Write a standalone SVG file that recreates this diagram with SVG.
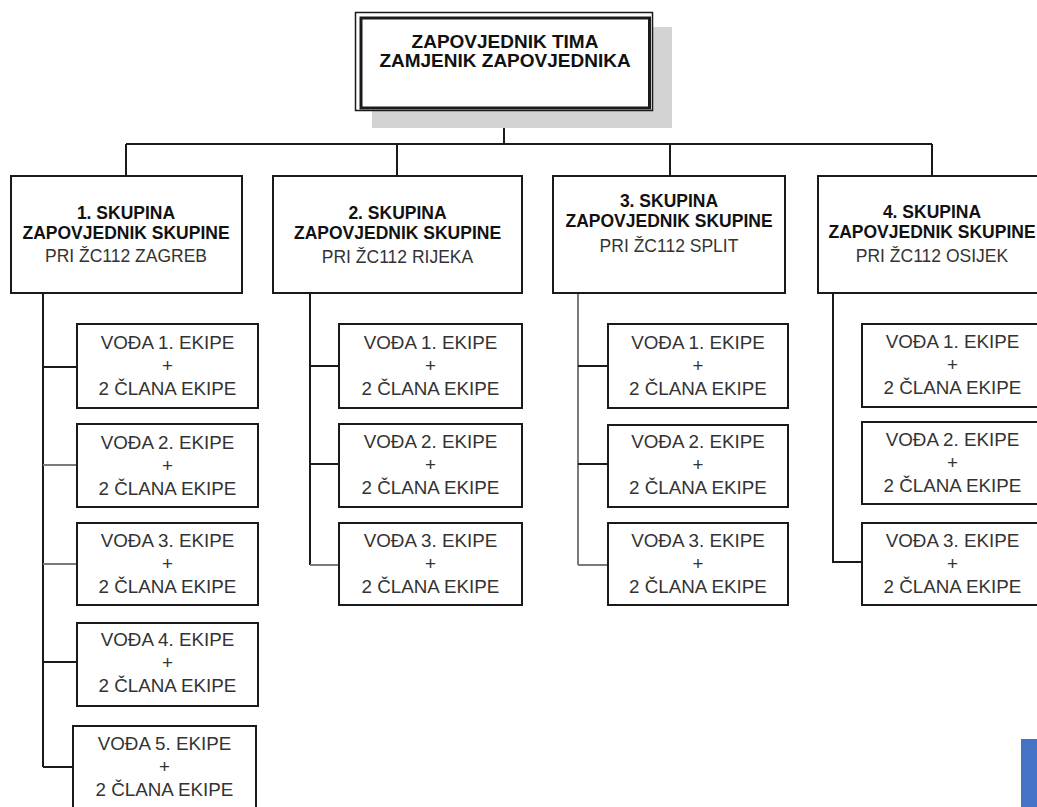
<svg xmlns="http://www.w3.org/2000/svg" width="1037" height="807" viewBox="0 0 1037 807">
<style>
.bg{fill:#ffffff}
.box{fill:#ffffff;stroke:#1a1a1a;stroke-width:2}
.ln{fill:none;stroke:#1a1a1a;stroke-width:2}
.lg{fill:none;stroke:#7a7a7a;stroke-width:2}
.t{font-family:"Liberation Sans",Arial,sans-serif;text-anchor:middle}
.tb{font-weight:bold;fill:#111;font-size:17.5px}
.tr{fill:#333;font-size:17.5px}
.tt{font-weight:bold;fill:#111;font-size:19px}
.te{fill:#333;font-size:18.8px}
</style>
<rect class="bg" x="0" y="0" width="1037" height="807"/>
<g id="connectors">
<path class="ln" d="M504 111V144M126 144H932M126 144V176M397 144V176M670 144V176M932 144V176"/>
<path class="ln" d="M43 293V767M43 367H77M43 662H77M43 767H73"/>
<path class="lg" d="M43 465H77M43 564H77"/>
<path class="ln" d="M310 293V565M310 366H339M310 464H339"/>
<path class="lg" d="M310 565H339"/>
<path class="lg" d="M578 293V565"/>
<path class="ln" d="M578 366H608M578 464H608"/>
<path class="lg" d="M578 565H608"/>
<path class="ln" d="M833 293V562H862"/>
</g>
<g id="top">
<rect x="372" y="27" width="300" height="101" fill="#d3d3d3"/>
<rect x="355.5" y="12.5" width="297" height="98" fill="#ffffff" stroke="#1a1a1a" stroke-width="1.5"/>
<rect x="361" y="18" width="288.5" height="90" fill="none" stroke="#1a1a1a" stroke-width="3"/>
<text class="t tt" x="505" y="48">ZAPOVJEDNIK TIMA</text>
<text class="t tt" x="505" y="67">ZAMJENIK ZAPOVJEDNIKA</text>
</g>
<g id="g1">
<rect class="box" x="11" y="176" width="231" height="117"/>
<text class="t tb" x="126" y="219">1. SKUPINA</text>
<text class="t tb" x="126" y="239">ZAPOVJEDNIK SKUPINE</text>
<text class="t tr" x="126" y="262">PRI ŽC112 ZAGREB</text>
</g>
<g id="g2">
<rect class="box" x="273" y="176" width="249" height="117"/>
<text class="t tb" x="397.5" y="219">2. SKUPINA</text>
<text class="t tb" x="397.5" y="239">ZAPOVJEDNIK SKUPINE</text>
<text class="t tr" x="397.5" y="263">PRI ŽC112 RIJEKA</text>
</g>
<g id="g3">
<rect class="box" x="553" y="176" width="232" height="117"/>
<text class="t tb" x="669" y="207">3. SKUPINA</text>
<text class="t tb" x="669" y="227">ZAPOVJEDNIK SKUPINE</text>
<text class="t tr" x="669" y="252">PRI ŽC112 SPLIT</text>
</g>
<g id="g4">
<rect class="box" x="818" y="176" width="232" height="117"/>
<text class="t tb" x="932" y="218">4. SKUPINA</text>
<text class="t tb" x="932" y="238">ZAPOVJEDNIK SKUPINE</text>
<text class="t tr" x="932" y="262">PRI ŽC112 OSIJEK</text>
</g>
<g id="g1e1"><rect class="box" x="77" y="324" width="181" height="84"/>
<text class="t te" x="167.5" y="349">VOĐA 1. EKIPE</text><text class="t te" x="167.5" y="372">+</text><text class="t te" x="167.5" y="395">2 ČLANA EKIPE</text></g>
<g id="g1e2"><rect class="box" x="77" y="424" width="181" height="83"/>
<text class="t te" x="167.5" y="449">VOĐA 2. EKIPE</text><text class="t te" x="167.5" y="472">+</text><text class="t te" x="167.5" y="495">2 ČLANA EKIPE</text></g>
<g id="g1e3"><rect class="box" x="77" y="523" width="181" height="82"/>
<text class="t te" x="167.5" y="547">VOĐA 3. EKIPE</text><text class="t te" x="167.5" y="570">+</text><text class="t te" x="167.5" y="593">2 ČLANA EKIPE</text></g>
<g id="g1e4"><rect class="box" x="77" y="623" width="181" height="83"/>
<text class="t te" x="167.5" y="646">VOĐA 4. EKIPE</text><text class="t te" x="167.5" y="669">+</text><text class="t te" x="167.5" y="692">2 ČLANA EKIPE</text></g>
<g id="g1e5"><rect class="box" x="73" y="726" width="183" height="86"/>
<text class="t te" x="164.5" y="750">VOĐA 5. EKIPE</text><text class="t te" x="164.5" y="773">+</text><text class="t te" x="164.5" y="796">2 ČLANA EKIPE</text></g>
<g id="g2e1"><rect class="box" x="339" y="324" width="183" height="84"/>
<text class="t te" x="430.5" y="349">VOĐA 1. EKIPE</text><text class="t te" x="430.5" y="372">+</text><text class="t te" x="430.5" y="395">2 ČLANA EKIPE</text></g>
<g id="g2e2"><rect class="box" x="339" y="424" width="183" height="83"/>
<text class="t te" x="430.5" y="448">VOĐA 2. EKIPE</text><text class="t te" x="430.5" y="471">+</text><text class="t te" x="430.5" y="494">2 ČLANA EKIPE</text></g>
<g id="g2e3"><rect class="box" x="339" y="523" width="183" height="82"/>
<text class="t te" x="430.5" y="547">VOĐA 3. EKIPE</text><text class="t te" x="430.5" y="570">+</text><text class="t te" x="430.5" y="593">2 ČLANA EKIPE</text></g>
<g id="g3e1"><rect class="box" x="608" y="324" width="180" height="84"/>
<text class="t te" x="698" y="349">VOĐA 1. EKIPE</text><text class="t te" x="698" y="372">+</text><text class="t te" x="698" y="395">2 ČLANA EKIPE</text></g>
<g id="g3e2"><rect class="box" x="608" y="425" width="180" height="82"/>
<text class="t te" x="698" y="448">VOĐA 2. EKIPE</text><text class="t te" x="698" y="471">+</text><text class="t te" x="698" y="494">2 ČLANA EKIPE</text></g>
<g id="g3e3"><rect class="box" x="608" y="523" width="180" height="82"/>
<text class="t te" x="698" y="547">VOĐA 3. EKIPE</text><text class="t te" x="698" y="570">+</text><text class="t te" x="698" y="593">2 ČLANA EKIPE</text></g>
<g id="g4e1"><rect class="box" x="862" y="324" width="181" height="83"/>
<text class="t te" x="952.5" y="348">VOĐA 1. EKIPE</text><text class="t te" x="952.5" y="371">+</text><text class="t te" x="952.5" y="394">2 ČLANA EKIPE</text></g>
<g id="g4e2"><rect class="box" x="862" y="422" width="181" height="82"/>
<text class="t te" x="952.5" y="446">VOĐA 2. EKIPE</text><text class="t te" x="952.5" y="469">+</text><text class="t te" x="952.5" y="492">2 ČLANA EKIPE</text></g>
<g id="g4e3"><rect class="box" x="862" y="523" width="181" height="82"/>
<text class="t te" x="952.5" y="547">VOĐA 3. EKIPE</text><text class="t te" x="952.5" y="570">+</text><text class="t te" x="952.5" y="593">2 ČLANA EKIPE</text></g>
<rect x="1021" y="739" width="16" height="68" fill="#4472c4"/>
</svg>
